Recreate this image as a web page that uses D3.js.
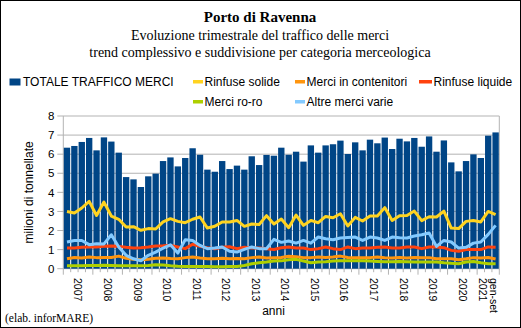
<!DOCTYPE html>
<html>
<head>
<meta charset="utf-8">
<script src="https://cdn.jsdelivr.net/npm/d3@7"></script>
<style>
  body { margin: 0; background: #fff; }
  svg text { fill: #000; }
</style>
</head>
<body>
<svg id="chart"></svg>
<script>
const SVG_W = 521;
const SVG_H = 328;
const PLOT  = { left: 63.3, right: 499.3, top: 116, bottom: 268.7 };

const years    = [2007, 2008, 2009, 2010, 2011, 2012, 2013, 2014, 2015, 2016, 2017, 2018, 2019, 2020, 2021];
const quarters = ['I', 'II', 'III', 'IV'];
const yearLabels = [['2007'], ['2008'], ['2009'], ['2010'], ['2011'], ['2012'], ['2013'], ['2014'],
                    ['2015'], ['2016'], ['2017'], ['2018'], ['2019'], ['2020'], ['gen-set', '2021']];
const yTicks = [0, 1, 2, 3, 4, 5, 6, 7, 8];

// 2007 T1 .. 2021 T3 (59 quarters)
const categories = years.flatMap(y => (y === 2021 ? quarters.slice(0, 3) : quarters).map(q => `${y}-${q}`));

const totale = [6.34, 6.43, 6.64, 6.85, 6.20, 6.88, 6.66, 6.08, 4.80, 4.68, 4.28, 4.84, 4.98, 5.64, 5.83,
                5.36, 5.80, 6.31, 5.97, 5.19, 5.08, 5.64, 5.22, 5.40, 5.19, 5.89, 5.43, 5.96, 5.92, 6.34,
                5.97, 6.13, 5.61, 6.46, 6.08, 6.46, 6.52, 6.71, 6.01, 6.62, 6.20, 6.76, 6.57, 6.87,
                6.27, 6.81, 6.67, 6.85, 6.39, 6.93, 6.13, 6.72, 5.57, 5.10, 5.64, 5.99, 5.80, 6.97, 7.14];

const rinfuseSolide = [3.00, 2.92, 3.18, 3.53, 2.79, 3.49, 2.76, 2.59, 2.18, 2.20, 2.01, 2.10, 2.08, 2.45, 2.62,
                       2.48, 2.41, 2.59, 2.71, 2.13, 2.22, 2.45, 2.45, 2.53, 2.22, 2.34, 2.32, 2.78, 2.34, 2.60,
                       2.15, 2.81, 2.27, 2.53, 2.41, 2.74, 2.67, 2.88, 2.24, 2.69, 2.50, 2.76, 2.76, 3.20,
                       2.53, 2.78, 2.79, 3.02, 2.52, 2.72, 2.71, 3.02, 2.13, 2.10, 2.48, 2.53, 2.45, 3.00, 2.83];

const contenitori = [0.52, 0.59, 0.56, 0.61, 0.58, 0.59, 0.59, 0.66, 0.55, 0.50, 0.47, 0.50, 0.55, 0.56, 0.53,
                     0.52, 0.58, 0.61, 0.56, 0.52, 0.52, 0.55, 0.52, 0.54, 0.52, 0.58, 0.61, 0.56, 0.58, 0.59,
                     0.65, 0.63, 0.58, 0.58, 0.61, 0.59, 0.61, 0.66, 0.59, 0.58, 0.58, 0.58, 0.61, 0.57,
                     0.56, 0.59, 0.56, 0.59, 0.58, 0.58, 0.52, 0.52, 0.52, 0.47, 0.52, 0.58, 0.56, 0.59, 0.51];

const rinfuseLiquide = [1.08, 1.08, 1.12, 1.14, 1.14, 1.17, 1.19, 1.17, 1.12, 1.08, 1.10, 1.14, 1.19, 1.20, 1.22,
                        1.14, 1.05, 1.28, 1.17, 1.10, 1.05, 1.12, 1.15, 1.05, 1.12, 1.08, 1.08, 1.05, 1.01, 1.10,
                        1.14, 1.08, 1.08, 1.00, 1.05, 1.14, 1.05, 1.00, 1.14, 1.05, 1.08, 1.08, 1.12, 1.14,
                        1.08, 1.08, 1.14, 1.14, 1.05, 1.14, 1.14, 1.10, 0.96, 0.91, 1.00, 1.00, 1.00, 1.14, 1.12];

const roro = [0.16, 0.16, 0.16, 0.17, 0.17, 0.18, 0.17, 0.16, 0.15, 0.15, 0.15, 0.17, 0.21, 0.19, 0.15,
              0.13, 0.12, 0.12, 0.11, 0.11, 0.10, 0.10, 0.11, 0.12, 0.17, 0.26, 0.31, 0.35, 0.40, 0.41,
              0.47, 0.49, 0.40, 0.31, 0.35, 0.37, 0.40, 0.42, 0.42, 0.42, 0.42, 0.40, 0.38, 0.36,
              0.37, 0.38, 0.37, 0.35, 0.35, 0.35, 0.35, 0.31, 0.28, 0.26, 0.35, 0.38, 0.31, 0.26, 0.26];

const altreMerci = [1.40, 1.48, 1.48, 1.26, 1.31, 1.30, 1.78, 1.14, 0.70, 0.52, 0.42, 0.70, 0.87, 1.08, 1.25,
                    0.82, 1.52, 1.48, 1.22, 1.05, 1.08, 1.14, 0.91, 0.87, 1.01, 1.14, 1.05, 1.05, 1.54, 1.38,
                    1.45, 1.34, 1.48, 1.34, 1.66, 1.57, 1.52, 1.61, 1.64, 1.66, 1.48, 1.66, 1.61, 1.48,
                    1.66, 1.62, 1.61, 1.71, 1.78, 1.87, 1.17, 1.48, 1.40, 1.08, 1.12, 1.34, 1.40, 1.80, 2.27];

const lineSeries = [
  { name: 'Rinfuse solide',       color: '#ffd320', values: rinfuseSolide },
  { name: 'Merci in contenitori', color: '#ff950e', values: contenitori },
  { name: 'Rinfuse liquide',      color: '#ff420e', values: rinfuseLiquide },
  { name: 'Merci ro-ro',          color: '#aecf00', values: roro },
  { name: 'Altre merci varie',    color: '#83caff', values: altreMerci }
];

const BAR_COLOR  = '#004586';
const GRID_COLOR = '#b3b3b3';
const SANS  = '"Liberation Sans", Arial, sans-serif';
const SERIF = '"Liberation Serif", "Times New Roman", serif';

const x = d3.scaleBand().domain(categories).range([PLOT.left, PLOT.right])
  .paddingInner(0.14).paddingOuter(0.07);
const y = d3.scaleLinear().domain([0, 8]).range([PLOT.bottom, PLOT.top]);
const boundary = i => PLOT.left + i * (PLOT.right - PLOT.left) / categories.length;

const svg = d3.select('#chart')
  .attr('width', SVG_W).attr('height', SVG_H)
  .attr('viewBox', `0 0 ${SVG_W} ${SVG_H}`);

svg.append('rect')
  .attr('x', 0.5).attr('y', 0.5)
  .attr('width', SVG_W - 1).attr('height', SVG_H - 1)
  .attr('fill', '#fff').attr('stroke', '#000');

// titles
svg.append('text').attr('x', 260).attr('y', 22).attr('text-anchor', 'middle')
  .style('font', `bold 15px ${SERIF}`).text('Porto di Ravenna');
svg.append('text').attr('x', 260).attr('y', 40).attr('text-anchor', 'middle')
  .style('font', `14px ${SERIF}`).text('Evoluzione trimestrale del traffico delle merci');
svg.append('text').attr('x', 260).attr('y', 57).attr('text-anchor', 'middle')
  .style('font', `14px ${SERIF}`).text('trend complessivo e suddivisione per categoria merceologica');

// legend
const legend = svg.append('g').style('font', `12px ${SANS}`);
legend.append('rect').attr('x', 9.5).attr('y', 78.5).attr('width', 11).attr('height', 7).attr('fill', BAR_COLOR);
legend.append('text').attr('x', 23).attr('y', 86).text('TOTALE TRAFFICO MERCI');
const legendPos = [[193, 86], [295, 86], [419, 86], [193, 106], [295, 106]];
lineSeries.forEach((s, i) => {
  const [lx, ly] = legendPos[i];
  const w = i === 2 ? 13 : 10;
  legend.append('rect').attr('x', lx).attr('y', ly - 6).attr('width', w).attr('height', 3.5).attr('fill', s.color);
  legend.append('text').attr('x', lx + w + 1.5).attr('y', ly).text(s.name);
});

// grid + y axis
const grid = svg.append('g');
grid.selectAll('line').data(yTicks).join('line')
  .attr('x1', PLOT.left - 6).attr('x2', PLOT.right)
  .attr('y1', d => y(d)).attr('y2', d => y(d))
  .attr('stroke', GRID_COLOR);
grid.append('line').attr('x1', PLOT.left).attr('x2', PLOT.left)
  .attr('y1', PLOT.top).attr('y2', PLOT.bottom).attr('stroke', GRID_COLOR);
grid.append('line').attr('x1', PLOT.right).attr('x2', PLOT.right)
  .attr('y1', PLOT.top).attr('y2', PLOT.bottom).attr('stroke', GRID_COLOR);

const yAxis = svg.append('g')
  .attr('transform', `translate(${PLOT.left},0)`)
  .call(d3.axisLeft(y).tickValues(yTicks).tickSize(0).tickPadding(9).tickFormat(d3.format('d')));
yAxis.select('.domain').remove();
yAxis.selectAll('text').style('font', `11.5px ${SANS}`);

svg.append('text')
  .attr('transform', `translate(33,${(PLOT.top + PLOT.bottom) / 2}) rotate(-90)`)
  .attr('text-anchor', 'middle')
  .style('font', `12px ${SANS}`).text('milioni di tonnellate');

// bars
svg.append('g').selectAll('rect').data(totale).join('rect')
  .attr('x', (d, i) => x(categories[i]))
  .attr('y', d => y(d))
  .attr('width', x.bandwidth())
  .attr('height', d => y(0) - y(d))
  .attr('fill', BAR_COLOR);

// lines
const line = d3.line()
  .x((d, i) => x(categories[i]) + x.bandwidth() / 2)
  .y(d => y(d));
svg.append('g').selectAll('path').data(lineSeries).join('path')
  .attr('d', s => line(s.values))
  .attr('fill', 'none')
  .attr('stroke', s => s.color)
  .attr('stroke-width', 3)
  .attr('stroke-linejoin', 'round');

// x axis ticks
const xTicks = svg.append('g').attr('stroke', GRID_COLOR);
d3.range(categories.length + 1).forEach(i => {
  const major = i % 4 === 0 || i === categories.length;
  xTicks.append('line')
    .attr('x1', boundary(i)).attr('x2', boundary(i))
    .attr('y1', PLOT.bottom).attr('y2', PLOT.bottom + (major ? 6 : 3.5));
});

// x labels, rotated
yearLabels.forEach((lines, j) => {
  const first = j * 4;
  const last  = Math.min(first + 3, categories.length - 1);
  const cx = (boundary(first) + boundary(last + 1)) / 2;
  const t = svg.append('text')
    .attr('transform', `translate(${cx},278) rotate(90)`)
    .style('font', `10.5px ${SANS}`);
  const off = (lines.length - 1) * 0.5;
  lines.forEach((ln, k) => {
    t.append('tspan').attr('x', 0).attr('y', 0)
      .attr('dy', `${(k - off) * 1.0 + 0.35}em`)
      .text(ln);
  });
});

svg.append('text').attr('x', 273.5).attr('y', 315).attr('text-anchor', 'middle')
  .style('font', `12px ${SANS}`).text('anni');

svg.append('text').attr('x', 5).attr('y', 322)
  .style('font', `11.5px ${SERIF}`).text('(elab. inforMARE)');
</script>
</body>
</html>
